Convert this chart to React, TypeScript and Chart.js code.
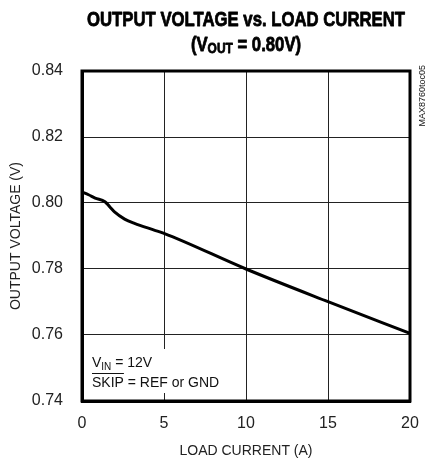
import React, { useEffect, useRef } from "react";
import { Chart, registerables } from "chart.js";

Chart.register(...registerables);

const loadCurrent = [0, 0.4, 0.8, 1.4, 1.7, 2.0, 2.6, 3.2, 4.4, 5, 10, 15, 20];
const outputVoltage = [0.8033, 0.8025, 0.8015, 0.8004, 0.7988, 0.7972, 0.7951, 0.7938, 0.7918, 0.7908, 0.780, 0.7701, 0.7605];
const xTicks = [0, 5, 10, 15, 20];
const yTicks = [0.74, 0.76, 0.78, 0.80, 0.82, 0.84];

const NARROW = "'Liberation Sans Narrow', 'Arial Narrow', 'Liberation Sans', sans-serif";

function drawCondensed(ctx: CanvasRenderingContext2D, text: string, x: number, y: number, sx: number, bold = false) {
  ctx.save();
  ctx.translate(x, y);
  ctx.scale(sx, 1);
  ctx.fillText(text, 0, 0);
  if (bold) {
    ctx.lineWidth = 0.8;
    ctx.strokeStyle = ctx.fillStyle as string;
    ctx.lineJoin = "round";
    ctx.strokeText(text, 0, 0);
  }
  ctx.restore();
}

const decorPlugin = {
  id: "decor",
  afterDatasetsDraw(chart: any) {
    const ctx: CanvasRenderingContext2D = chart.ctx;
    const area = chart.chartArea;
    const cx = (area.left + area.right) / 2;
    ctx.save();
    ctx.fillStyle = "#000";
    ctx.textBaseline = "alphabetic";
    ctx.textAlign = "left";
    const big = "bold 21px 'Liberation Sans', sans-serif";
    const small = "bold 15px 'Liberation Sans', sans-serif";
    // Title line 1
    ctx.font = big;
    const t1 = "OUTPUT VOLTAGE vs. LOAD CURRENT";
    const sx = 318 / ctx.measureText(t1).width;
    const w1 = ctx.measureText(t1).width * sx;
    drawCondensed(ctx, t1, cx - w1 / 2, 26, sx, true);
    // Title line 2: (VOUT = 0.80V)
    const pA = "(V";
    const pSub = "OUT";
    const pB = " = 0.80V)";
    const wA = ctx.measureText(pA).width * sx;
    const wB = ctx.measureText(pB).width * sx;
    ctx.font = small;
    const wS = ctx.measureText(pSub).width * sx;
    let x = cx - (wA + wS + wB) / 2;
    ctx.font = big;
    drawCondensed(ctx, pA, x, 51, sx, true);
    x += wA;
    ctx.font = small;
    drawCondensed(ctx, pSub, x, 53, sx, true);
    x += wS;
    ctx.font = big;
    drawCondensed(ctx, pB, x, 51, sx, true);

    // Annotation box
    ctx.fillStyle = "#fff";
    ctx.fillRect(88, 349, 132, 44);
    ctx.fillStyle = "#111";
    const fa = "14px " + NARROW;
    const fs = "10px " + NARROW;
    ctx.font = fa;
    let ax = 92;
    ctx.fillText("V", ax, 367);
    ax += ctx.measureText("V").width;
    ctx.font = fs;
    ctx.fillText("IN", ax, 370);
    ax += ctx.measureText("IN").width;
    ctx.font = fa;
    ctx.fillText(" = 12V", ax, 367);
    const skip = "SKIP";
    ctx.fillText(skip, 92, 387);
    const ws = ctx.measureText(skip).width;
    ctx.fillText(" = REF or GND", 92 + ws, 387);
    ctx.fillRect(92, 373, ws, 1);

    // Right side code
    ctx.save();
    ctx.translate(424.5, 65);
    ctx.rotate(-Math.PI / 2);
    ctx.font = "9px " + NARROW;
    ctx.textAlign = "right";
    ctx.textBaseline = "alphabetic";
    ctx.fillText("MAX8760toc05", 0, 0);
    ctx.restore();
    ctx.restore();
  },
};

export default function App() {
  const ref = useRef<HTMLCanvasElement | null>(null);
  useEffect(() => {
    document.body.style.margin = "0";
    const canvas = ref.current!;
    const chart = new Chart(canvas, {
      type: "line",
      data: {
        datasets: [
          {
            data: loadCurrent.map((x, i) => ({ x, y: outputVoltage[i] })),
            borderColor: "#000",
            borderWidth: 3,
            pointRadius: 0,
            cubicInterpolationMode: "monotone",
            fill: false,
          },
        ],
      },
      options: {
        animation: false,
        responsive: false,
        devicePixelRatio: 1,
        layout: { padding: { top: 71, right: 15, left: 8, bottom: 0 } },
        plugins: { legend: { display: false }, tooltip: { enabled: false } },
        scales: {
          x: {
            type: "linear",
            min: 0,
            max: 20,
            afterBuildTicks: (s: any) => {
              s.ticks = xTicks.map((v) => ({ value: v }));
            },
            afterFit: (s: any) => {
              s.height = 59;
              s.paddingLeft = 0;
              s.paddingRight = 0;
            },
            grid: { color: "#222", lineWidth: 1, drawTicks: false },
            border: { color: "#000", width: 3 },
            ticks: {
              color: "#222",
              padding: 13,
              font: { family: NARROW, size: 16 },
              callback: (v: any) => String(v),
            },
            title: {
              display: true,
              text: "LOAD CURRENT (A)",
              color: "#222",
              font: { family: NARROW, size: 14 },
              padding: { top: 6, bottom: 0 },
            },
          },
          y: {
            type: "linear",
            min: 0.74,
            max: 0.84,
            afterBuildTicks: (s: any) => {
              s.ticks = yTicks.map((v) => ({ value: v }));
            },
            afterFit: (s: any) => {
              s.width = 74;
              s.paddingTop = 0;
              s.paddingBottom = 0;
            },
            grid: { color: "#222", lineWidth: 1, drawTicks: false },
            border: { color: "#000", width: 3 },
            ticks: {
              color: "#222",
              padding: 19,
              font: { family: NARROW, size: 16 },
              callback: (v: any) => Number(v).toFixed(2),
            },
            title: {
              display: true,
              text: "OUTPUT VOLTAGE (V)",
              color: "#222",
              font: { family: NARROW, size: 14 },
              padding: { top: 0, bottom: 0 },
            },
          },
        },
      },
      plugins: [
        decorPlugin,
        {
          id: "frame",
          afterDraw(c: any) {
            const a = c.chartArea;
            const ctx = c.ctx;
            ctx.save();
            ctx.strokeStyle = "#000";
            ctx.lineWidth = 3;
            ctx.strokeRect(a.left, a.top, a.right - a.left, a.bottom - a.top);
            ctx.restore();
          },
        },
      ],
    } as any);
    return () => chart.destroy();
  }, []);
  return (
    <div style={{ position: "absolute", left: 0, top: 0, width: 425, height: 460 }}>
      <canvas ref={ref} width={425} height={460} style={{ width: 425, height: 460 }} />
    </div>
  );
}
